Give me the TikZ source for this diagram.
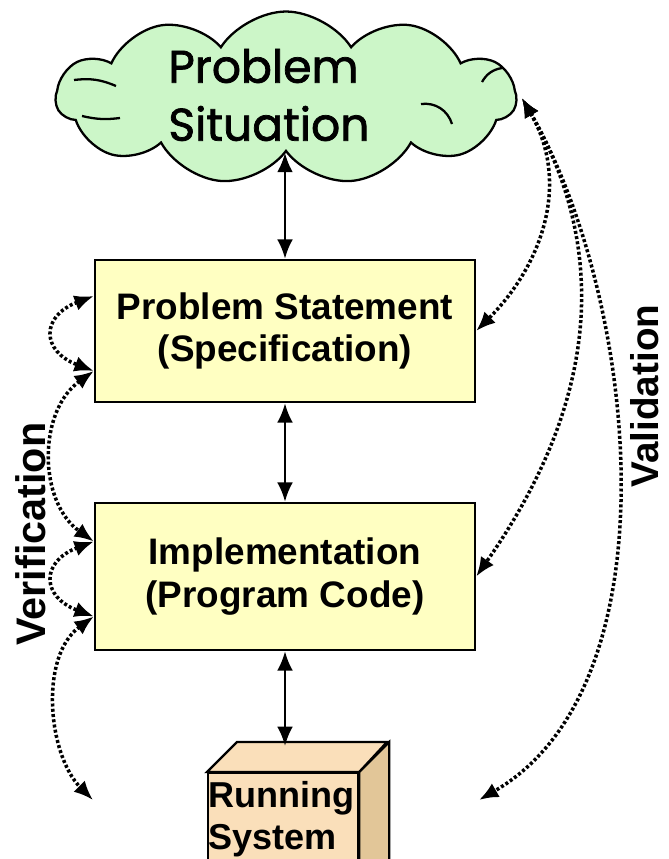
\documentclass[tikz,border=0pt]{standalone}
\usepackage{fontspec}
\usepackage{tikz}
\usetikzlibrary{shapes.symbols,arrows.meta}
\setmainfont{Liberation Sans}
\newfontfamily\cloudfont{Poppins}[FakeBold=1.6]
\definecolor{sitgreen}{RGB}{204,246,200}
\definecolor{stmtyellow}{RGB}{255,255,194}
\definecolor{runfront}{RGB}{250,223,186}
\definecolor{runside}{RGB}{226,198,152}

\begin{document}
\begin{tikzpicture}[x=0.02cm, y=-0.02cm,
   stage/.style={draw=black, line width=1.4pt, fill=stmtyellow, minimum width=7.6cm, align=center, inner sep=0pt, font=\fontsize{21}{24}\selectfont\bfseries},
   solidarrow/.style={black, line width=1.5pt, {Latex[length=11pt,width=9pt]}-{Latex[length=11pt,width=9pt]}},
   dotarrow/.style={black, line width=2pt, dash pattern=on 1.7pt off 1.3pt, {Latex[length=11pt,width=9pt]}-{Latex[length=11pt,width=9pt]}},
   sidelabel/.style={rotate=90, inner sep=0pt, font=\fontsize{22}{24}\selectfont\bfseries}]
  \path[use as bounding box] (0,0) rectangle (669,859);
  \clip (0,0) rectangle (669,859);
  % problem situation cloud
  \node[cloud, cloud puffs=11, cloud puff arc=115, cloud ignores aspect, draw=black, line width=1.3pt, fill=sitgreen,
        minimum width=9.2cm, minimum height=3.46cm] (sit) at (286,98) {};
  % little curls inside the cloud
  \draw[line width=1.3pt] (74,80) to[bend left=15] (116,86);
  \draw[line width=1.3pt] (82,116) to[bend right=10] (120,118);
  \draw[line width=1.3pt] (421,104) to[bend left=40] (452,124);
  \draw[line width=1.3pt] (482,82) to[bend left=25] (502,68);
  \node[anchor=west, align=left, inner sep=0pt, font=\cloudfont\fontsize{26}{33}\selectfont] (sittxt) at (168,95) {Problem\\Situation};
  % the two boxes
  \node[stage, minimum height=2.84cm] (spec) at (285,331) {Problem Statement\\(Specification)};
  \node[stage, minimum height=2.94cm] (impl) at (285,576.5) {Implementation\\(Program Code)};
  % running system, a box seen from above
  \node[draw=black, line width=1.3pt, fill=runfront, minimum width=3cm, minimum height=2.6cm, anchor=north west, inner sep=0pt] (run) at (207,772) {};
  \draw[black, line width=1.3pt, fill=runfront] (run.north west) -- ++(30,-30) -- ++(150,0) -- (run.north east) -- cycle;
  \draw[black, line width=1.3pt, fill=runside] (run.north east) -- ++(30,-30) -- ++(0,130) -- (run.south east) -- cycle;
  \node[anchor=north west, align=left, inner sep=0pt, font=\fontsize{20.5}{24}\selectfont\bfseries] (runtxt) at (208,781) {Running\\System};
  \coordinate (runtop) at (285,746);
  \coordinate (verend) at (93,800);
  \coordinate (valend) at (479,800);

  \draw[solidarrow] (spec.north |- sit.south) -- (spec.north);
  \draw[solidarrow] (spec.south) -- (impl.north);
  \draw[solidarrow] (impl.south) -- (runtop);

  % verification, left side
  \draw[dotarrow] ([yshift=0.7cm]spec.west) .. controls +(-53,20) and +(-53,-20) .. ([yshift=-0.8cm]spec.west);
  \draw[dotarrow] ([yshift=-0.8cm]spec.west) .. controls +(-56,40) and +(-56,-40) .. ([yshift=0.7cm]impl.west);
  \draw[dotarrow] ([yshift=0.7cm]impl.west) .. controls +(-53,20) and +(-53,-20) .. ([yshift=-0.8cm]impl.west);
  \draw[dotarrow] ([yshift=-0.8cm]impl.west) .. controls +(-55,40) and +(-45,-45) .. (verend);
  % validation, right side
  \draw[dotarrow] ([xshift=0.08cm]sit.east) .. controls +(50,87) and +(64,-64) .. (spec.east);
  \draw[dotarrow] ([xshift=0.08cm]sit.east) .. controls +(75,130) and +(138,-197) .. (impl.east);
  \draw[dotarrow] ([xshift=0.08cm]sit.east) .. controls +(115,199) and +(199,-115) .. (valend);

  \node[sidelabel, font=\fontsize{23.5}{24}\selectfont\bfseries] (verif) at (31,534) {Verification};
  \node[sidelabel] (valid) at (645,396) {Validation};
\end{tikzpicture}
\end{document}
